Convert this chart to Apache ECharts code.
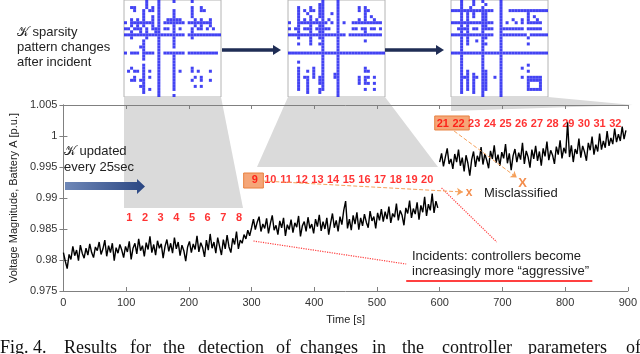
<!DOCTYPE html>
<html>
<head>
<meta charset="utf-8">
<script src="https://cdn.jsdelivr.net/npm/echarts@6/dist/echarts.min.js"></script>
<style>html,body{margin:0;padding:0;background:#fff}#main{width:640px;height:354px}</style>
</head>
<body>
<div id="main"></div>
<script>
// voltage samples, one every 3 s
var step = 3;
var seg1Start = 0, seg2Start = 300, seg3Start = 600;
var seg1 = [0.9812,0.9798,0.9786,0.9809,0.9801,0.9822,0.9807,0.9816,0.9799,0.9824,
  0.9811,0.9803,0.9819,0.9808,0.9826,0.9812,0.9804,0.9821,0.9815,0.9829,
  0.9809,0.9818,0.9832,0.9806,0.9823,0.9812,0.9827,0.9799,0.9820,0.9811,
  0.9825,0.9816,0.9804,0.9822,0.9813,0.9830,0.9801,0.9819,0.9827,0.9810,
  0.9834,0.9815,0.9823,0.9806,0.9828,0.9817,0.9838,0.9812,0.9825,0.9808,
  0.9831,0.9819,0.9826,0.9803,0.9822,0.9833,0.9814,0.9827,0.9811,0.9836,
  0.9818,0.9829,0.9807,0.9824,0.9815,0.9798,0.9821,0.9830,0.9812,0.9826,
  0.9817,0.9839,0.9813,0.9828,0.9820,0.9805,0.9832,0.9816,0.9842,0.9819,
  0.9829,0.9811,0.9836,0.9822,0.9808,0.9833,0.9818,0.9840,0.9821,0.9812,
  0.9835,0.9825,0.9846,0.9818,0.9832,0.9827,0.9841,0.9834,0.9848,0.9839];
var seg2 = [0.9852,0.9866,0.9849,0.9861,0.9870,0.9846,0.9858,0.9851,0.9867,0.9843,
  0.9859,0.9872,0.9848,0.9856,0.9841,0.9863,0.9852,0.9868,0.9839,0.9857,
  0.9849,0.9865,0.9844,0.9860,0.9853,0.9871,0.9838,0.9855,0.9862,0.9846,
  0.9869,0.9851,0.9858,0.9843,0.9866,0.9854,0.9873,0.9847,0.9862,0.9850,
  0.9868,0.9841,0.9859,0.9875,0.9852,0.9864,0.9846,0.9870,0.9857,0.9880,
  0.9895,0.9851,0.9866,0.9848,0.9872,0.9858,0.9877,0.9849,0.9868,0.9855,
  0.9874,0.9861,0.9852,0.9879,0.9863,0.9870,0.9851,0.9876,0.9864,0.9882,
  0.9862,0.9878,0.9866,0.9886,0.9860,0.9875,0.9869,0.9891,0.9864,0.9880,
  0.9872,0.9856,0.9884,0.9875,0.9896,0.9868,0.9883,0.9874,0.9893,0.9865,
  0.9888,0.9877,0.9902,0.9871,0.9890,0.9880,0.9907,0.9876,0.9895,0.9884];
var seg3 = [0.9958,0.9972,0.9951,0.9966,0.9980,0.9955,0.9963,0.9947,0.9971,0.9958,
  0.9978,0.9952,0.9965,0.9943,0.9969,0.9956,0.9936,0.9962,0.9975,0.9950,
  0.9968,0.9959,0.9982,0.9954,0.9971,0.9961,0.9948,0.9976,0.9963,0.9985,
  0.9957,0.9970,0.9952,0.9974,0.9964,0.9987,0.9956,0.9972,0.9945,0.9968,
  0.9979,0.9958,0.9973,0.9962,0.9989,0.9955,0.9976,0.9966,0.9949,0.9978,
  0.9963,0.9984,0.9960,0.9975,0.9952,0.9980,0.9967,0.9991,0.9961,0.9977,
  0.9969,0.9955,0.9983,0.9970,0.9993,0.9964,0.9981,0.9972,1.0022,0.9966,
  0.9985,0.9958,0.9979,0.9971,0.9996,0.9965,0.9984,0.9974,0.9960,0.9989,
  0.9977,0.9999,0.9970,0.9986,0.9975,1.0004,0.9978,0.9992,0.9981,1.0008,
  0.9984,0.9997,0.9987,1.0012,0.9990,1.0003,0.9992,1.0015,0.9995,1.0009];

// controller update numbers, their times and label heights
var updateIds = ['1','2','3','4','5','6','7','8','9','10','11','12','13','14','15','16',
  '17','18','19','20','21','22','23','24','25','26','27','28','29','30','31','32'];
var updateTimes = [105,130,155,180,205,230,255,280,305,330,355,380,405,430,455,480,
  505,530,555,580,605,630,655,680,705,730,755,780,805,830,855,880];
var updateLevels = [0.9868,0.9868,0.9868,0.9868,0.9868,0.9868,0.9868,0.9868,
  0.9929,0.9929,0.9929,0.9929,0.9929,0.9929,0.9929,0.9929,0.9929,0.9929,0.9929,0.9929,
  1.0019,1.0019,1.0019,1.0019,1.0019,1.0019,1.0019,1.0019,1.0019,1.0019,1.0019,1.0019];

// sparsity patterns: nonzero columns of each row (32 x 32)
var pattern1 = ['7,11,16,22','7,11','2,3,7,9,11,22,25','3,6,8,9,11,16,22,25,26','6,11,16,22',
  '6,9,11,16,22','2,4,6,9,11,14-18,23,25,28','0,2-9,11,13-19,21-28','2,4,6,9,11,16,23,25,28',
  '0,1,3-5,7,9-11,13,14,16,18,22,24,25,27,29','2,5,7,10,11,16,22','0-19,21-31','2,7,11,16,22',
  '6,11,16','6,11,16','5,6,11,16','6,11','0,2-4,6-9,11,13-19,21-30','6,11,16','6,11,16',
  '11,16','6,11,16','2,6,11,16,22','1,3,4,6,8,11,16,18,22,24,28','6,11,16','3,6,8,11,16,23,25',
  '2,3,5,6,11,16,22,25,28','6,11,16','5,6,11,16,23,25','6,8,11,16','6,11','11,16'];
var pattern2 = ['11,16','10,11,16','3,7,10,11,16,23,25','3,5,7,8,10,11,16,23,25,26',
  '3,6,10,11,14,16,25','3,7,10,11,16,25,27','3,5,7,9,11,13,16,23,25,28','0,3-12,14,16,18,21-30',
  '3,7,10,11,16','0,2,3,5-7,9-13,16,21,22,24,25,27,28,30','3,7,10,11,16,25','0-18,20-30',
  '3,7,10,11,16','7,11,16,25','3,7,10,11,16','11,16','11,16','0-31','11,16','11,16','3,11,16',
  '11,16','3,8,11,16,25','3,6,8,11,16,25,26','3,8,11,15,16','3,5,6,8,10,11,15,16,23,25,26,28',
  '3,6,10,11,16,23,25','3,6,10,11,16,23,25,26,28','3,6,11,16','3,6,10,11,16,25,28','6,10,16','16'];
var pattern3 = ['3,7,10,16','3,7,11,16','3,6,10,16','0-13,16,19-31','3,5,7,10,11,16,25',
  '3,5,7,10,11,16,25,27','3,5,10,11,16,20,23,25,28','0-13,16,18,21,23,25-29','3,5,10,11,16',
  '2-5,7,8,10-13,16-23,25-29','3,5,10,16','0-13,16-24,26-31','3,5,10,11,16,25','3,5,8,10,16',
  '3,5,10,11,16,25','3,10,16','3,10,16','0-31','3,10,16','3,10,16','3,10,16','3,10,16,25',
  '3,10,16,23','3,5,10,11,16,25','3,5,7,10,11,16','3-5,7,8,10,11,14,16,23,25-29',
  '3,5,7,10,11,16,25-29','3,5,7,10,11,16,25,29','3,5,7,10,11,16,25,29','3,5,7,10,11,16,25-29',
  '3,7,10,16','10,16'];

function parseRows(rows) {
  var pts = [];
  rows.forEach(function (row, r) {
    row.split(',').forEach(function (part) {
      var ab = part.split('-');
      var a = +ab[0], b = ab.length > 1 ? +ab[1] : a;
      for (var c = a; c <= b; c++) pts.push([c, r]);
    });
  });
  return pts;
}
function toPairs(start, vals) {
  return vals.map(function (v, i) { return [start + i * step, v]; });
}

var font = 'Liberation Sans';
var axisGray = '#808080';
var red = '#ff0000';

var labelData = updateIds.map(function (id, i) { return [updateTimes[i], updateLevels[i], id]; });

var sparseGrids = [124, 288, 451];

var dom = document.getElementById('main');
var myChart = echarts.init(dom);

var grids = [{left: 60, right: 7, top: 105, bottom: 63}];
var xAxes = [
  {gridIndex: 0, type: 'value', min: 0, max: 900, interval: 100,
    axisLine: {lineStyle: {color: axisGray}},
    axisTick: {inside: true, length: 4, lineStyle: {color: axisGray}},
    axisLabel: {color: '#333', fontSize: 11, fontFamily: font, margin: 6},
    splitLine: {show: false},
    name: 'Time [s]', nameLocation: 'middle', nameGap: 23,
    nameTextStyle: {color: '#222', fontSize: 11, fontFamily: font}},
  {gridIndex: 0, type: 'value', position: 'top', min: 0, max: 900, interval: 100,
    axisLine: {lineStyle: {color: axisGray}},
    axisTick: {inside: true, length: 4, lineStyle: {color: axisGray}},
    axisLabel: {show: false}, splitLine: {show: false}}
];
var yAxes = [
  {gridIndex: 0, type: 'value', min: 0.975, max: 1.005, interval: 0.005,
    axisLine: {show: true, lineStyle: {color: axisGray}},
    axisTick: {show: true, inside: true, length: 4, lineStyle: {color: axisGray}},
    axisLabel: {color: '#333', fontSize: 11, fontFamily: font, margin: 6,
      formatter: function (v) { return String(Math.round(v * 1000) / 1000); }},
    splitLine: {show: false},
    name: 'Voltage Magnitude, Battery A [p.u.]', nameLocation: 'middle', nameGap: 30,
    nameTextStyle: {color: '#222', fontSize: 11, fontFamily: font}},
  {gridIndex: 0, type: 'value', position: 'right', min: 0.975, max: 1.005, interval: 0.005,
    axisLine: {show: true, lineStyle: {color: axisGray}},
    axisTick: {show: true, inside: true, length: 4, lineStyle: {color: axisGray}},
    axisLabel: {show: false}, splitLine: {show: false}}
];
var sparseSeries = [];
[pattern1, pattern2, pattern3].forEach(function (pat, k) {
  grids.push({left: sparseGrids[k], top: 0, width: 97, height: 97, show: true,
    backgroundColor: '#fff', borderColor: '#b4b4b4', borderWidth: 1});
  xAxes.push({gridIndex: k + 1, type: 'value', min: -0.5, max: 31.5, show: false});
  yAxes.push({gridIndex: k + 1, type: 'value', min: -0.5, max: 31.5, inverse: true, show: false});
  sparseSeries.push({
    type: 'scatter', xAxisIndex: k + 2, yAxisIndex: k + 2, silent: true,
    symbol: 'rect', symbolSize: 3, itemStyle: {color: '#1414f0'},
    data: parseRows(pat)
  });
});

option = {
  animation: false,
  grid: grids,
  xAxis: xAxes,
  yAxis: yAxes,
  series: [
    {
      name: 'voltage', type: 'line', xAxisIndex: 0, yAxisIndex: 0, showSymbol: false, z: 3,
      lineStyle: {color: '#000', width: 1.4},
      data: toPairs(seg1Start, seg1).concat(toPairs(seg2Start, seg2))
    },
    {
      name: 'voltage2', type: 'line', xAxisIndex: 0, yAxisIndex: 0, showSymbol: false, z: 3,
      lineStyle: {color: '#000', width: 1.4},
      data: toPairs(seg3Start, seg3),
      markLine: {
        silent: true, symbol: ['none', 'none'], label: {show: false},
        lineStyle: {color: '#ff4040', type: 'dotted', width: 1.2},
        data: [
          [{coord: [603, 0.99161]}, {coord: [691, 0.9829]}],
          [{coord: [303, 0.98306]}, {coord: [546.6, 0.97935]}],
          [{coord: [546.6, 0.97661], lineStyle: {type: 'solid', width: 1.5, color: red}},
            {coord: [843.4, 0.97661]}]
        ]
      }
    },
    {
      name: 'updates', type: 'scatter', xAxisIndex: 0, yAxisIndex: 0, silent: true,
      symbol: 'circle', symbolSize: 1, itemStyle: {color: 'rgba(0,0,0,0)'},
      label: {show: true, position: 'inside', color: red, fontWeight: 'bold', fontSize: 11,
        fontFamily: font, formatter: function (p) { return p.data[2]; }},
      data: labelData,
      markArea: {
        silent: true,
        itemStyle: {color: '#f5a678', borderColor: '#e8803f', borderWidth: 1},
        data: [
          [{coord: [287.4, 0.99403]}, {coord: [318.8, 0.99161]}],
          [{coord: [592.1, 1.00323]}, {coord: [647.1, 1.00097]}]
        ]
      }
    },
    {
      name: 'misclassified', type: 'scatter', xAxisIndex: 0, yAxisIndex: 0, silent: true,
      symbol: 'circle', symbolSize: 1, itemStyle: {color: 'rgba(0,0,0,0)'},
      label: {show: true, position: 'inside', color: '#f07020', fontWeight: 'bold',
        fontFamily: font, formatter: function (p) { return p.data.value[2]; }},
      data: [
        {value: [647, 0.99081, 'x'], label: {fontSize: 12}},
        {value: [732, 0.99242, 'X'], label: {fontSize: 13}}
      ],
      markLine: {
        silent: true, symbol: ['none', 'arrow'], symbolSize: 6, label: {show: false},
        lineStyle: {color: '#f5a05a', type: 'dashed', width: 1},
        data: [
          [{coord: [318.8, 0.99274]}, {coord: [637, 0.99097]}],
          [{coord: [623, 1.0008]}, {coord: [723, 0.9933]}]
        ]
      }
    }
  ].concat(sparseSeries),
  graphic: [
    {type: 'polygon', z: 0, shape: {points: [[124, 97], [221, 97], [243, 208], [124, 208]]}, style: {fill: '#dadada'}},
    {type: 'polygon', z: 0, shape: {points: [[288, 97], [385, 97], [438, 167], [257, 167]]}, style: {fill: '#dadada'}},
    {type: 'polygon', z: 0, shape: {points: [[451, 97], [548, 97], [633, 105], [451, 111]]}, style: {fill: '#dadada'}},
    // arrows between sparsity images
    {type: 'line', z: 50, shape: {x1: 222, y1: 50, x2: 274, y2: 50}, style: {stroke: '#1f2d55', lineWidth: 3.5}},
    {type: 'polygon', z: 50, shape: {points: [[273, 45], [281, 50], [273, 55]]}, style: {fill: '#1f2d55'}},
    {type: 'line', z: 50, shape: {x1: 385, y1: 50, x2: 437, y2: 50}, style: {stroke: '#1f2d55', lineWidth: 3.5}},
    {type: 'polygon', z: 50, shape: {points: [[436, 45], [444, 50], [436, 55]]}, style: {fill: '#1f2d55'}},
    // update arrow
    {type: 'polygon', z: 50,
      shape: {points: [[65, 182], [137, 182], [137, 179], [145, 186.5], [137, 194], [137, 190], [65, 190]]},
      style: {fill: new echarts.graphic.LinearGradient(0, 0, 1, 0, [
        {offset: 0, color: '#6f88b8'}, {offset: 1, color: '#2a4682'}])}},
    {type: 'text', z: 100, left: 17, top: 25,
      style: {text: '\u{1D4A6} sparsity\npattern changes\nafter incident', font: '13px "Liberation Sans"', lineHeight: 15, fill: '#222'}},
    {type: 'text', z: 100, left: 64, top: 143,
      style: {text: '\u{1D4A6} updated\nevery 25sec', font: '13px "Liberation Sans"', lineHeight: 16, fill: '#222'}},
    {type: 'text', z: 100, left: 484, top: 185,
      style: {text: 'Misclassified', font: '13px "Liberation Sans"', lineHeight: 16, fill: '#222'}},
    {type: 'text', z: 100, left: 412, top: 249,
      style: {text: 'Incidents: controllers become\nincreasingly more \u201Caggressive\u201D', font: '13px "Liberation Sans"', lineHeight: 15, fill: '#222'}},
    // cropped caption line
    {type: 'text', z: 100, left: 0, top: 339, style: {text: 'Fig. 4.', font: '18px "Liberation Serif"', fill: '#111'}},
    {type: 'text', z: 100, left: 64, top: 339, style: {text: 'Results', font: '18px "Liberation Serif"', fill: '#111'}},
    {type: 'text', z: 100, left: 130, top: 339, style: {text: 'for', font: '18px "Liberation Serif"', fill: '#111'}},
    {type: 'text', z: 100, left: 163, top: 339, style: {text: 'the', font: '18px "Liberation Serif"', fill: '#111'}},
    {type: 'text', z: 100, left: 198, top: 339, style: {text: 'detection', font: '18px "Liberation Serif"', fill: '#111'}},
    {type: 'text', z: 100, left: 276, top: 339, style: {text: 'of', font: '18px "Liberation Serif"', fill: '#111'}},
    {type: 'text', z: 100, left: 300, top: 339, style: {text: 'changes', font: '18px "Liberation Serif"', fill: '#111'}},
    {type: 'text', z: 100, left: 372, top: 339, style: {text: 'in', font: '18px "Liberation Serif"', fill: '#111'}},
    {type: 'text', z: 100, left: 402, top: 339, style: {text: 'the', font: '18px "Liberation Serif"', fill: '#111'}},
    {type: 'text', z: 100, left: 442, top: 339, style: {text: 'controller', font: '18px "Liberation Serif"', fill: '#111'}},
    {type: 'text', z: 100, left: 528, top: 339, style: {text: 'parameters', font: '18px "Liberation Serif"', fill: '#111'}},
    {type: 'text', z: 100, left: 626, top: 339, style: {text: 'of', font: '18px "Liberation Serif"', fill: '#111'}}
  ]
};
if (option && typeof option === "object") {
    myChart.setOption(option, true);
}
</script>
</body>
</html>
